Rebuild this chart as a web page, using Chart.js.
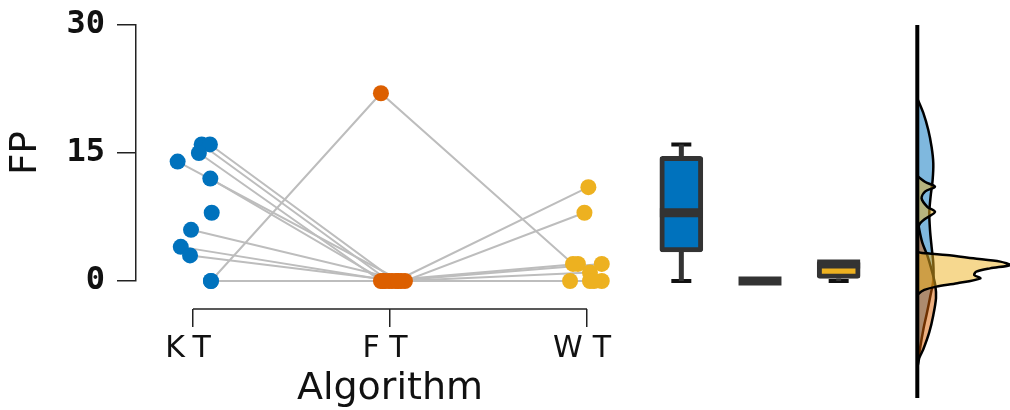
<!DOCTYPE html>
<html>
<head>
<meta charset="utf-8">
<script src="https://cdn.jsdelivr.net/npm/chart.js@4.4.1/dist/chart.umd.min.js"></script>
<style>
  html, body { margin: 0; padding: 0; background: #fff; }
  #wrap { position: relative; width: 1010px; height: 410px; }
  #wrap canvas { position: absolute; top: 0; }
</style>
</head>
<body>
<div id="wrap">
  <canvas id="pairs" width="1010" height="410" style="left:0"></canvas>
  <canvas id="boxes" width="236" height="410" style="left:642px"></canvas>
  <canvas id="density" width="130" height="410" style="left:880px"></canvas>
</div>
<script>
// --- data ---
const groups = ['KT', 'FT', 'WT'];
const yTicks = [0, 15, 30];

// one entry per subject, same index across groups (null = no value)
const kt = [16, 16, 15, 14, 12, 8, 6, 4, 3, 0, 0];
const ft = [0, 0, 0, 0, 0, null, 0, 0, 0, 0, 22];
const wt = [0, 11, 2, 1, 0, null, 8, 2, 0, 0, 2];

// horizontal jitter of each dot around its group
const ktJitter = [0.044, 0.086, 0.030, -0.078, 0.088, 0.095, -0.010, -0.062, -0.015, 0.091, 0.091];
const ftJitter = [-0.005, 0.030, -0.046, 0.056, -0.025, 0, 0.076, 0.010, 0.041, -0.036, -0.046];
const wtJitter = [-0.086, 0.007, -0.046, 0.015, 0.015, 0, -0.013, 0.075, 0.075, 0.036, -0.071];

// box plot stats per group
const boxLow = [0, 0, 0];
const boxQ1 = [3.4, 0, 0.3];
const boxMedian = [8, 0, 2];
const boxQ3 = [14.6, 0, 2.4];
const boxHigh = [16, 0, 2.4];

// half violins: density value at each FP level
const ktDensityY = [21.4, 19.7, 17.7, 15.7, 13.8, 11.8, 9.9, 8.0, 6.0, 4.0, 2.1, 0.1, -1.8, -3.8, -5.7, -7.7, -9.3, -10.5];
const ktDensity = [0, 0.06, 0.11, 0.143, 0.16, 0.153, 0.133, 0.12, 0.127, 0.143, 0.16, 0.16, 0.13, 0.095, 0.06, 0.03, 0.01, 0];
const ftDensityY = [7.5, 6, 4.5, 3, 1, -0.5, -2, -4, -6, -8, -9, -10, -10.6];
const ftDensity = [0, 0.02, 0.05, 0.1, 0.15, 0.18, 0.187, 0.16, 0.12, 0.06, 0.02, 0.003, 0];
const wtDensityY = [12.3, 11.6, 11.05, 10.5, 9.7, 8.7, 8.1, 7.3, 6.6, 5.5, 4.2, 3.43, 3.24, 3.05, 2.66, 2.27, 1.88, 1.48, 1.09, 0.70, 0.31, -0.27, -0.66, -1.05, -1.52, -1.8];
const wtDensity = [0, 0.08, 0.177, 0.08, 0.043, 0.10, 0.177, 0.08, 0.02, 0.005, 0.004, 0.005, 0.10, 0.29, 0.56, 0.83, 0.93, 0.727, 0.59, 0.57, 0.63, 0.40, 0.19, 0.07, 0.01, 0];
const violinSpan = [30, -13.7];

// --- look ---
const colors = ['#0072BD', '#DC5F00', '#EDB120'];
const fills = ['rgba(0,114,189,0.5)', 'rgba(220,95,0,0.5)', 'rgba(237,177,32,0.5)'];
const ink = '#111';
const AXIS_Y = -3.28;            // x axis sits a bit below the zero line
const PANEL_Y = [-15.117, 32.93]; // full canvas height in FP units, matches the main axes

const base = {
  responsive: false,
  animation: false,
  events: [],
  plugins: { legend: { display: false }, tooltip: { enabled: false } }
};

// x axis line only from first to last group (trimmed spine)
const xSpine = {
  id: 'xSpine',
  afterDraw(chart) {
    const { ctx, scales: { x, y } } = chart;
    const py = y.getPixelForValue(AXIS_Y);
    ctx.save();
    ctx.strokeStyle = '#222';
    ctx.lineWidth = 1.5;
    ctx.beginPath();
    ctx.moveTo(x.getPixelForValue(0), py);
    ctx.lineTo(x.getPixelForValue(groups.length - 1), py);
    ctx.stroke();
    ctx.restore();
  }
};

// the group names are letter-spaced in the original
const spacedLabels = {
  id: 'spacedLabels',
  afterLayout(chart) {
    const scale = chart.scales.x;
    if (scale.$spaced) return;
    const drawLabels = scale.drawLabels;
    scale.drawLabels = function (area) {
      this.ctx.save();
      this.ctx.letterSpacing = '10px';
      drawLabels.call(this, area);
      this.ctx.restore();
    };
    scale.$spaced = true;
  }
};

// paired lines, one per subject
const pairLines = kt.map((v, i) => {
  const pts = [
    { x: 0 + ktJitter[i], y: v },
    { x: 1 + ftJitter[i], y: ft[i] },
    { x: 2 + wtJitter[i], y: wt[i] }
  ].filter(p => p.y !== null);
  return {
    type: 'line',
    data: pts.length > 1 ? pts : [],
    borderColor: '#bdbdbd',
    borderWidth: 2,
    pointRadius: 0,
    clip: false,
    order: 5
  };
});

const dots = [[kt, ktJitter], [ft, ftJitter], [wt, wtJitter]].map(([vals, jit], g) => ({
  data: vals.map((v, i) => (v === null ? null : { x: g + jit[i], y: v })).filter(Boolean),
  pointRadius: 8,
  pointBorderWidth: 0,
  pointBackgroundColor: colors[g],
  clip: false,
  order: 1
}));

new Chart(document.getElementById('pairs'), {
  type: 'scatter',
  data: { datasets: [...pairLines, ...dots] },
  options: {
    ...base,
    layout: { padding: { top: 25, right: 366, bottom: 129, left: 0 } },
    scales: {
      x: {
        type: 'linear',
        min: -0.2893,
        max: 2.2893,
        offset: false,
        position: { y: AXIS_Y },
        border: { display: false },
        grid: { drawOnChartArea: false, tickLength: 18, color: '#222', lineWidth: 1.5 },
        afterBuildTicks: s => { s.ticks = groups.map((g, i) => ({ value: i })); },
        ticks: {
          callback: v => groups[v],
          padding: 4,
          color: ink,
          autoSkip: false,
          maxRotation: 0,
          font: { family: 'DejaVu Sans', size: 30 }
        },
        title: { display: true, text: 'Algorithm', color: ink, padding: 0, font: { family: 'DejaVu Sans', size: 38 } },
        afterFit: s => { s.height = 103; s.paddingLeft = 0; s.paddingRight = 0; }
      },
      y: {
        min: 0,
        max: 30,
        position: 'left',
        afterBuildTicks: s => { s.ticks = yTicks.map(v => ({ value: v })); },
        border: { color: '#222', width: 1.5 },
        grid: { drawOnChartArea: false, tickLength: 19, color: '#222', lineWidth: 1.5 },
        ticks: { padding: 12, color: ink, font: { family: 'DejaVu Sans Mono', size: 32, weight: 'bold' } },
        title: { display: true, text: 'FP', color: ink, padding: { top: 4, bottom: 0 }, font: { family: 'DejaVu Sans', size: 37 } },
        afterFit: s => { s.width = 136; s.paddingTop = 0; s.paddingBottom = 0; }
      }
    }
  },
  plugins: [xSpine, spacedLabels]
});

// --- box plots ---
const CAP = 0.127, MED = 0.273;
const whiskers = [], caps = [], medians = [];
groups.forEach((g, i) => {
  whiskers.push({ x: i, y: boxQ3[i] }, { x: i, y: boxHigh[i] }, { x: i, y: null });
  whiskers.push({ x: i, y: boxQ1[i] }, { x: i, y: boxLow[i] }, { x: i, y: null });
  if (boxHigh[i] > boxQ3[i]) caps.push({ x: i - CAP, y: boxHigh[i] }, { x: i + CAP, y: boxHigh[i] }, { x: i, y: null });
  if (boxLow[i] < boxQ1[i]) caps.push({ x: i - CAP, y: boxLow[i] }, { x: i + CAP, y: boxLow[i] }, { x: i, y: null });
  medians.push({ x: i - MED, y: boxMedian[i] }, { x: i + MED, y: boxMedian[i] }, { x: i, y: null });
});

new Chart(document.getElementById('boxes'), {
  type: 'scatter',
  data: {
    datasets: [
      {
        type: 'bar',
        data: groups.map((g, i) => ({ x: i, y: [boxQ1[i], boxQ3[i]] })),
        backgroundColor: colors,
        borderColor: '#333',
        borderWidth: 5,
        borderSkipped: false,
        borderRadius: 3,
        barThickness: 43,
        order: 2
      },
      { type: 'line', data: whiskers, borderColor: '#333', borderWidth: 5, pointRadius: 0, order: 3 },
      { type: 'line', data: caps, borderColor: ink, borderWidth: 4, pointRadius: 0, order: 3 },
      { type: 'line', data: medians, borderColor: '#333', borderWidth: 9, pointRadius: 0, order: 1 }
    ]
  },
  options: {
    ...base,
    scales: {
      x: { type: 'linear', display: false, min: -0.5, max: 2.5, offset: false },
      y: { display: false, min: PANEL_Y[0], max: PANEL_Y[1] }
    }
  }
});

// --- half violins ---
const densitySet = (ys, ds, g, order) => ({
  type: 'line',
  data: ys.map((v, i) => ({ x: ds[i], y: v })),
  fill: 'shape',
  backgroundColor: fills[g],
  borderColor: '#000',
  borderWidth: 2.5,
  pointRadius: 0,
  tension: 0.3,
  order
});

new Chart(document.getElementById('density'), {
  type: 'scatter',
  data: {
    datasets: [
      { type: 'line', data: violinSpan.map(v => ({ x: 0, y: v })), borderColor: '#000', borderWidth: 4, pointRadius: 0, order: 0 },
      densitySet(wtDensityY, wtDensity, 2, 1),
      densitySet(ftDensityY, ftDensity, 1, 2),
      densitySet(ktDensityY, ktDensity, 0, 3)
    ]
  },
  options: {
    ...base,
    scales: {
      x: { type: 'linear', display: false, min: -0.373, max: 0.927 },
      y: { display: false, min: PANEL_Y[0], max: PANEL_Y[1] }
    }
  }
});
</script>
</body>
</html>
